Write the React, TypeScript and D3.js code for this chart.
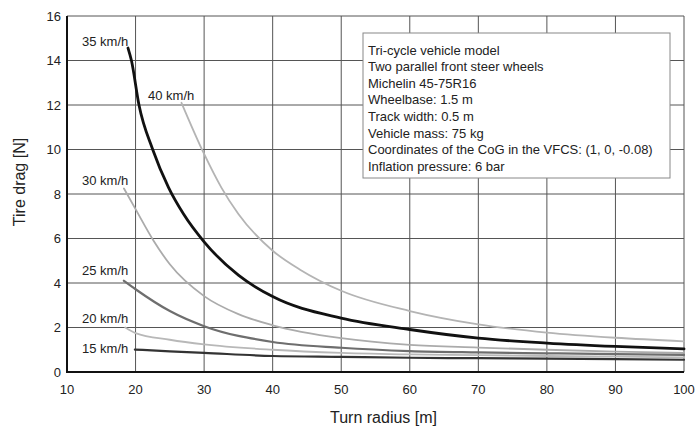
import React from 'react';
import * as d3 from 'd3';

// turn radius [m] / tire drag [N]
const r35 = [18.9, 19.4, 20.5, 22.5, 24.8, 27, 30, 35, 40, 50, 60, 70, 80, 90, 100];
const d35 = [14.56, 14.0, 12.0, 10.0, 8.3, 7.1, 5.85, 4.35, 3.39, 2.42, 1.91, 1.52, 1.3, 1.15, 1.04];

const r40 = [26.7, 30, 32.5, 35, 40, 44, 50, 60, 70, 80, 90, 100];
const d40 = [12.1, 9.8, 8.3, 7.1, 5.45, 4.6, 3.65, 2.74, 2.14, 1.77, 1.54, 1.38];

const r30 = [18.3, 20, 22.65, 25, 30, 35, 40, 50, 60, 70, 80, 90, 100];
const d30 = [8.25, 7.32, 5.89, 4.84, 3.41, 2.6, 2.1, 1.52, 1.22, 1.1, 1.0, 0.92, 0.86];

const r25 = [18.3, 20, 25, 30, 40, 50, 60, 70, 80, 90, 100];
const d25 = [4.1, 3.72, 2.74, 2.06, 1.35, 1.09, 0.94, 0.88, 0.84, 0.8, 0.77];

const r20 = [18.5, 20, 25, 30, 40, 50, 60, 70, 80, 90, 100];
const d20 = [2.0, 1.75, 1.45, 1.24, 1.0, 0.86, 0.79, 0.76, 0.72, 0.69, 0.66];

const r15 = [19.9, 25, 30, 40, 50, 60, 70, 80, 90, 100];
const d15 = [1.01, 0.93, 0.86, 0.72, 0.68, 0.64, 0.62, 0.6, 0.58, 0.55];

const xTicks = [10, 20, 30, 40, 50, 60, 70, 80, 90, 100];
const yTicks = [0, 2, 4, 6, 8, 10, 12, 14, 16];

const infoLines = [
  'Tri-cycle vehicle model',
  'Two parallel front steer wheels',
  'Michelin 45-75R16',
  'Wheelbase: 1.5 m',
  'Track width: 0.5 m',
  'Vehicle mass: 75 kg',
  'Coordinates of the CoG in the VFCS: (1, 0, -0.08)',
  'Inflation pressure: 6 bar',
];

const series = [
  { label: '40 km/h', r: r40, d: d40, color: '#b4b4b4', w: 1.8, lx: 148, ly: 95 },
  { label: '30 km/h', r: r30, d: d30, color: '#ababab', w: 1.8, lx: 82, ly: 180 },
  { label: '20 km/h', r: r20, d: d20, color: '#b8b8b8', w: 1.8, lx: 82, ly: 318 },
  { label: '25 km/h', r: r25, d: d25, color: '#6e6e6e', w: 2.2, lx: 82, ly: 270 },
  { label: '15 km/h', r: r15, d: d15, color: '#333333', w: 2.2, lx: 82, ly: 348 },
  { label: '35 km/h', r: r35, d: d35, color: '#111111', w: 2.8, lx: 82, ly: 41 },
];

const W = 697;
const H = 427;
const margin = { top: 16, right: 13, bottom: 55, left: 67 };
const font = 'Liberation Sans, Arial, sans-serif';

export default function App() {
  const x = d3.scaleLinear().domain([10, 100]).range([margin.left, W - margin.right]);
  const y = d3.scaleLinear().domain([0, 16]).range([H - margin.bottom, margin.top]);

  const line = d3
    .line<[number, number]>()
    .x((p) => x(p[0]))
    .y((p) => y(p[1]))
    .curve(d3.curveMonotoneX);

  const x0 = x(10), x1 = x(100), y0 = y(0), y1 = y(16);

  return (
    <svg width={W} height={H} style={{ position: 'absolute', left: 0, top: 0, background: '#fff' }} fontFamily={font}>
      {/* grid */}
      {xTicks.map((t) => (
        <line key={'gx' + t} x1={x(t)} x2={x(t)} y1={y1} y2={y0} stroke="#555" strokeWidth={1} />
      ))}
      {yTicks.map((t) => (
        <line key={'gy' + t} x1={x0} x2={x1} y1={y(t)} y2={y(t)} stroke="#555" strokeWidth={1} />
      ))}

      {/* curves */}
      {series.map((s) => (
        <path
          key={s.label}
          d={line(s.r.map((v, i) => [v, s.d[i]] as [number, number])) || ''}
          fill="none"
          stroke={s.color}
          strokeWidth={s.w}
          strokeLinecap="round"
        />
      ))}
      {series.map((s) => (
        <text key={'l' + s.label} x={s.lx} y={s.ly} dy="0.35em" fontSize={13} fill="#222">
          {s.label}
        </text>
      ))}

      {/* axes */}
      <line x1={x0} x2={x0} y1={y1} y2={y0 + 1} stroke="#111" strokeWidth={2} />
      <line x1={x0 - 1} x2={x1} y1={y0} y2={y0} stroke="#111" strokeWidth={2} />

      {yTicks.map((t) => (
        <text key={'ty' + t} x={x0 - 6} y={y(t)} dy="0.35em" textAnchor="end" fontSize={13} fill="#222">
          {t}
        </text>
      ))}
      {xTicks.map((t) => (
        <text key={'tx' + t} x={x(t)} y={y0 + 17} dy="0.35em" textAnchor="middle" fontSize={13} fill="#222">
          {t}
        </text>
      ))}

      <text x={(x0 + x1) / 2 + 8} y={417} dy="0.35em" textAnchor="middle" fontSize={16} fill="#222">
        Turn radius [m]
      </text>
      <text
        transform={`translate(19,182) rotate(-90)`}
        dy="0.35em"
        textAnchor="middle"
        fontSize={16}
        fill="#222"
      >
        Tire drag [N]
      </text>

      {/* info box */}
      <rect x={363} y={33} width={307} height={145} fill="#fff" stroke="#888" strokeWidth={1} />
      {infoLines.map((s, i) => (
        <text key={'info' + i} x={368} y={50 + i * 16.6} dy="0.35em" fontSize={13} fill="#222">
          {s}
        </text>
      ))}
    </svg>
  );
}
